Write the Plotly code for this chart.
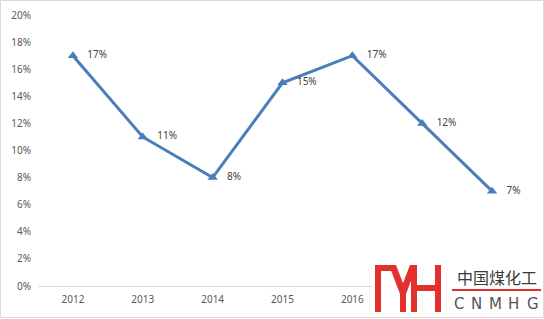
import plotly.graph_objects as go

years = ["2012", "2013", "2014", "2015", "2016", "2017", "2018"]
values = [17, 11, 8, 15, 17, 12, 7]
labels = ["17%", "11%", "8%", "15%", "17%", "12%", "7%"]
y_ticks = [0, 2, 4, 6, 8, 10, 12, 14, 16, 18, 20]
y_tick_labels = [f"{v}%" for v in y_ticks]

W, H = 544, 319
L, R, T, B = 38, 17, 15, 33
PW, PH = W - L - R, H - T - B


def px(x):
    return (x - L) / PW


def py(y):
    return 1 - (y - T) / PH


def poly(pts):
    return "M " + " L ".join(f"{px(x):.5f},{py(y):.5f}" for x, y in pts) + " Z"


pad = "\u00a0" * 3
fig = go.Figure()
fig.add_trace(go.Scatter(
    x=years, y=values, text=[pad + t for t in labels],
    mode="lines+markers+text",
    textposition="middle right",
    textfont=dict(family="Noto Sans, sans-serif", size=10, color="#404040"),
    line=dict(color="#4A7EBB", width=3),
    marker=dict(symbol="triangle-up", size=9, color="#4A7EBB"),
    cliponaxis=False,
    hoverinfo="skip",
))

red = "#E2312C"
shapes = [
    dict(type="rect", xref="paper", yref="paper", x0=px(0.5), x1=px(543.5), y0=py(317.5), y1=py(0.5),
         line=dict(color="#D9D9D9", width=1), layer="below"),
    dict(type="rect", xref="paper", yref="paper", x0=px(372), x1=px(543), y0=py(317), y1=py(262),
         fillcolor="white", line=dict(width=0), layer="above"),
]
logo_polys = [
    [(375, 265), (381, 265), (381, 312), (375, 312)],
    [(375, 265), (395, 265), (395, 271), (375, 271)],
    [(389, 265), (396, 265), (406, 291), (400, 294)],
    [(410, 265), (417, 265), (406, 294), (400, 291)],
    [(400, 290), (406, 290), (406, 312), (400, 312)],
    [(411, 265), (417, 265), (417, 312), (411, 312)],
    [(435, 265), (441, 265), (441, 312), (435, 312)],
    [(411, 285), (441, 285), (441, 291), (411, 291)],
    [(452, 289), (541, 289), (541, 291), (452, 291)],
]
for p in logo_polys:
    shapes.append(dict(type="path", xref="paper", yref="paper", path=poly(p),
                       fillcolor=red, line=dict(width=0), layer="above"))

annotations = [dict(x=px(497), y=py(277), xref="paper", yref="paper", text="中国煤化工", showarrow=False,
                    font=dict(family="Noto Sans CJK SC", size=16, color="#3A3A3A"),
                    xanchor="center", yanchor="middle")]
for ch, cx in zip("CNMHG", [459, 476, 495, 513, 533]):
    annotations.append(dict(x=px(cx), y=py(304), xref="paper", yref="paper", text=ch, showarrow=False,
                            font=dict(family="DejaVu Sans, sans-serif", size=15, color="#555555"),
                            xanchor="center", yanchor="middle"))

fig.update_layout(
    width=W, height=H,
    margin=dict(l=L, r=R, t=T, b=B),
    paper_bgcolor="white", plot_bgcolor="white",
    showlegend=False,
    shapes=shapes,
    annotations=annotations,
    xaxis=dict(type="category", range=[-0.5, 6.5], showgrid=False, zeroline=False,
               showline=True, linecolor="#D9D9D9", linewidth=1, ticks="",
               tickfont=dict(family="Noto Sans, sans-serif", size=10, color="#595959"),
               ticklabelstandoff=4, automargin=False, fixedrange=True),
    yaxis=dict(range=[0, 20], tickvals=y_ticks, ticktext=y_tick_labels, showgrid=False,
               zeroline=False, showline=False, ticks="",
               tickfont=dict(family="Noto Sans, sans-serif", size=10, color="#595959"),
               ticklabelstandoff=6, automargin=False, fixedrange=True),
)

fig.write_html("out.html")
